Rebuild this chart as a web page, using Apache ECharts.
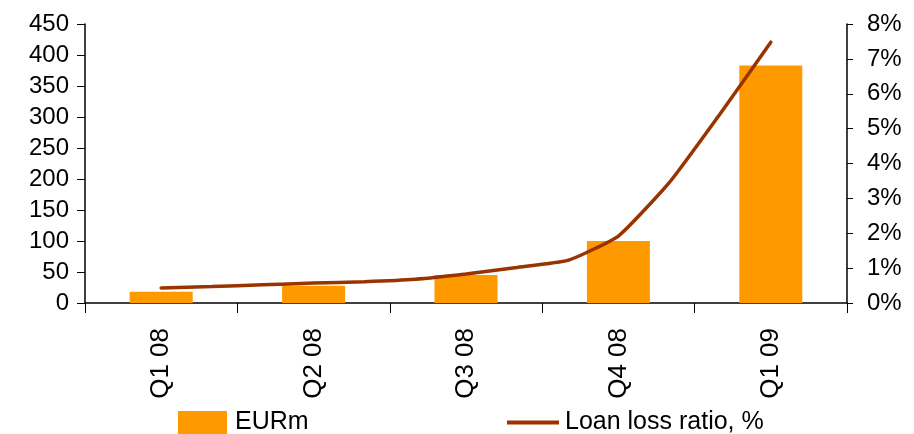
<!DOCTYPE html>
<html>
<head>
<meta charset="utf-8">
<script src="https://cdn.jsdelivr.net/npm/echarts@6/dist/echarts.min.js"></script>
<style>
  html, body { margin: 0; padding: 0; background: #fff; }
  #chart { width: 914px; height: 434px; }
</style>
</head>
<body>
<div id="chart"></div>
<script>
// quarterly categories and loan losses in EURm
const quarters = ['Q1 08', 'Q2 08', 'Q3 08', 'Q4 08', 'Q1 09']
const lossesEURm = [18, 28, 45, 100, 383]

// loan loss ratio, read monthly (mid-quarter of Q1 08 to mid-quarter of Q1 09)
const months = ['Jan 08', 'Feb 08', 'Mar 08', 'Apr 08', 'May 08', 'Jun 08', 'Jul 08', 'Aug 08',
  'Sep 08', 'Oct 08', 'Nov 08', 'Dec 08', 'Jan 09', 'Feb 09', 'Mar 09']
const lossRatioPct = [null, 0.43, 0.47, 0.52, 0.57, 0.61, 0.68, 0.83, 1.02, 1.22, 1.92, 3.45, 5.42, 7.48, null]

const leftTicks = { min: 0, max: 450, interval: 50 }
const rightTicks = { min: 0, max: 8, interval: 1 }

const font = 'Liberation Sans, Arial, sans-serif'
const chart = echarts.init(document.getElementById('chart'))

chart.setOption({
  animation: false,
  grid: { left: 85, right: 67, top: 24, bottom: 131, containLabel: false },
  legend: [
    {
      data: ['EURm'],
      left: 178,
      top: 410,
      padding: 0,
      icon: 'rect',
      itemWidth: 49,
      itemHeight: 23,
      textStyle: { fontFamily: font, fontSize: 25, color: '#000', padding: [0, 0, 0, 3] }
    },
    {
      data: ['Loan loss ratio, %'],
      left: 507,
      top: 410,
      padding: 0,
      icon: 'rect',
      itemWidth: 52,
      itemHeight: 4,
      textStyle: { fontFamily: font, fontSize: 25, color: '#000', padding: [0, 0, 0, 1] }
    }
  ],
  xAxis: [
    {
      type: 'category',
      data: quarters,
      boundaryGap: true,
      axisLine: { lineStyle: { color: '#000', width: 1.5 } },
      axisTick: { show: true, length: 10, alignWithLabel: false, lineStyle: { color: '#000' } },
      axisLabel: {
        rotate: 90,
        margin: 25,
        color: '#000',
        fontFamily: font,
        fontSize: 26,
        interval: 0
      }
    },
    {
      type: 'category',
      data: months,
      boundaryGap: true,
      show: false
    }
  ],
  yAxis: [
    {
      type: 'value',
      min: leftTicks.min,
      max: leftTicks.max,
      interval: leftTicks.interval,
      axisLine: { show: true, lineStyle: { color: '#000', width: 1.5 } },
      axisTick: { show: true, length: 8, lineStyle: { color: '#000' } },
      splitLine: { show: false },
      axisLabel: { margin: 16, color: '#000', fontFamily: font, fontSize: 24 }
    },
    {
      type: 'value',
      position: 'right',
      min: rightTicks.min,
      max: rightTicks.max,
      interval: rightTicks.interval,
      axisLine: { show: true, lineStyle: { color: '#000', width: 1.5 } },
      axisTick: { show: true, length: 6, lineStyle: { color: '#000' } },
      splitLine: { show: false },
      axisLabel: { margin: 20, color: '#000', fontFamily: font, fontSize: 24, formatter: '{value}%' }
    }
  ],
  series: [
    {
      name: 'EURm',
      type: 'bar',
      data: lossesEURm,
      xAxisIndex: 0,
      yAxisIndex: 0,
      barWidth: 63,
      itemStyle: { color: '#FF9900' }
    },
    {
      name: 'Loan loss ratio, %',
      type: 'line',
      data: lossRatioPct,
      xAxisIndex: 1,
      yAxisIndex: 1,
      smooth: 0.15,
      symbol: 'none',
      connectNulls: false,
      lineStyle: { color: '#993300', width: 3.5, cap: 'round' },
      itemStyle: { color: '#993300' }
    }
  ]
})
</script>
</body>
</html>
